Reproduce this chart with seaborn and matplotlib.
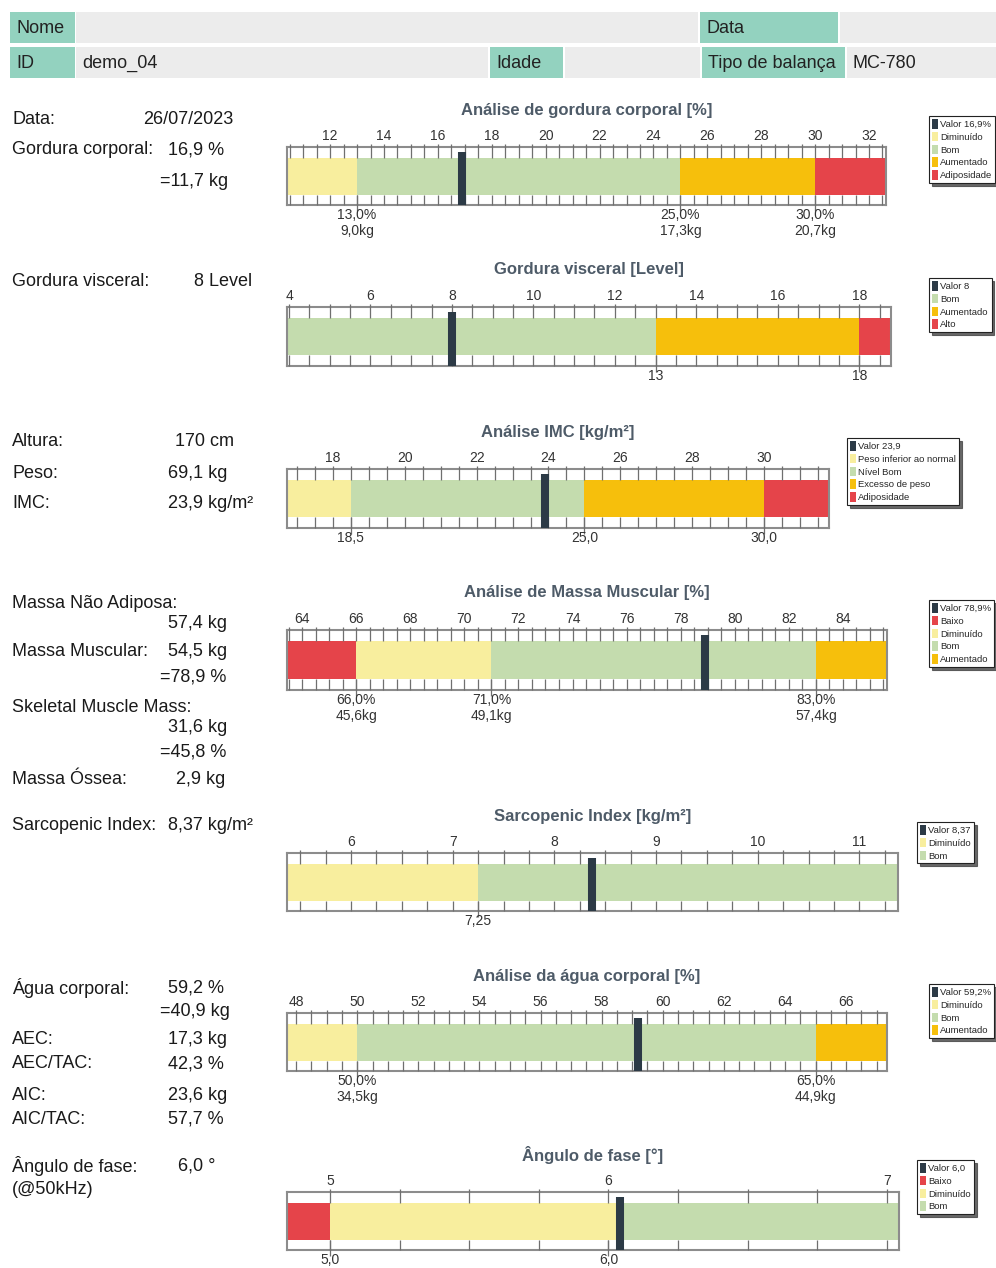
import numpy as np
import matplotlib
matplotlib.use("Agg")
import matplotlib.pyplot as plt
import seaborn as sns
from matplotlib.patches import Rectangle, Patch

sns.set_theme(style="white")
plt.rcParams['font.family'] = ['Liberation Sans', 'DejaVu Sans']

W, H = 996, 1268

# ---------------- colours ----------------
C_YEL = '#f8ee9e'
C_GRN = '#c4dcae'
C_ORA = '#f6bf0c'
C_RED = '#e5444a'
C_VAL = '#2c3a46'
C_TEAL = '#93d2bf'
C_GREY = '#ececec'

# ---------------- header data ----------------
header_labels = ["Nome", "Data", "ID", "Idade", "Tipo de balança"]
header_values = ["", "", "demo_04", "", "MC-780"]

# ---------------- summary (left column) data ----------------
summary_labels = ["Data:", "Gordura corporal:", "", "Gordura visceral:",
                  "Altura:", "Peso:", "IMC:",
                  "Massa Não Adiposa:", "", "Massa Muscular:", "",
                  "Skeletal Muscle Mass:", "", "", "Massa Óssea:",
                  "Sarcopenic Index:",
                  "Água corporal:", "", "AEC:", "AEC/TAC:", "AIC:", "AIC/TAC:",
                  "Ângulo de fase:", "(@50kHz)"]
summary_values = ["26/07/2023", "16,9 %", "=11,7 kg", "8 Level",
                  "170 cm", "69,1 kg", "23,9 kg/m²",
                  "", "57,4 kg", "54,5 kg", "=78,9 %",
                  "", "31,6 kg", "=45,8 %", "2,9 kg",
                  "8,37 kg/m²",
                  "59,2 %", "=40,9 kg", "17,3 kg", "42,3 %", "23,6 kg", "57,7 %",
                  "6,0 °", ""]

# ---------------- gauge data ----------------
fat_title = "Análise de gordura corporal [%]"
fat_ticks = [12, 14, 16, 18, 20, 22, 24, 26, 28, 30, 32]
fat_bounds = [13.0, 25.0, 30.0]
fat_edges = [13.0, 25.0, 30.0]
fat_colors = [C_YEL, C_GRN, C_ORA, C_RED]
fat_value = 16.9
fat_bound_labels = ["13,0%\n9,0kg", "25,0%\n17,3kg", "30,0%\n20,7kg"]
fat_legend = ["Valor 16,9%", "Diminuído", "Bom", "Aumentado", "Adiposidade"]
fat_legend_colors = [C_VAL, C_YEL, C_GRN, C_ORA, C_RED]

visc_title = "Gordura visceral [Level]"
visc_ticks = [4, 6, 8, 10, 12, 14, 16, 18]
visc_bounds = [13, 18]
visc_edges = [13, 18]
visc_colors = [C_GRN, C_ORA, C_RED]
visc_value = 8
visc_bound_labels = ["13", "18"]
visc_legend = ["Valor 8", "Bom", "Aumentado", "Alto"]
visc_legend_colors = [C_VAL, C_GRN, C_ORA, C_RED]

bmi_title = "Análise IMC [kg/m²]"
bmi_ticks = [18, 20, 22, 24, 26, 28, 30]
bmi_bounds = [18.5, 25.0, 30.0]
bmi_edges = [18.5, 25.0, 30.0]
bmi_colors = [C_YEL, C_GRN, C_ORA, C_RED]
bmi_value = 23.9
bmi_bound_labels = ["18,5", "25,0", "30,0"]
bmi_legend = ["Valor 23,9", "Peso inferior ao normal", "Nível Bom", "Excesso de peso", "Adiposidade"]
bmi_legend_colors = [C_VAL, C_YEL, C_GRN, C_ORA, C_RED]

mus_title = "Análise de Massa Muscular [%]"
mus_ticks = [64, 66, 68, 70, 72, 74, 76, 78, 80, 82, 84]
mus_bounds = [66.0, 71.0, 83.0]
mus_edges = [66.0, 71.0, 83.0]
mus_colors = [C_RED, C_YEL, C_GRN, C_ORA]
mus_value = 78.9
mus_bound_labels = ["66,0%\n45,6kg", "71,0%\n49,1kg", "83,0%\n57,4kg"]
mus_legend = ["Valor 78,9%", "Baixo", "Diminuído", "Bom", "Aumentado"]
mus_legend_colors = [C_VAL, C_RED, C_YEL, C_GRN, C_ORA]

sarc_title = "Sarcopenic Index [kg/m²]"
sarc_ticks = [6, 7, 8, 9, 10, 11]
sarc_bounds = [7.25]
sarc_edges = [7.25]
sarc_colors = [C_YEL, C_GRN]
sarc_value = 8.37
sarc_bound_labels = ["7,25"]
sarc_legend = ["Valor 8,37", "Diminuído", "Bom"]
sarc_legend_colors = [C_VAL, C_YEL, C_GRN]

wat_title = "Análise da água corporal [%]"
wat_ticks = [48, 50, 52, 54, 56, 58, 60, 62, 64, 66]
wat_bounds = [50.0, 65.0]
wat_edges = [50.0, 65.0]
wat_colors = [C_YEL, C_GRN, C_ORA]
wat_value = 59.2
wat_bound_labels = ["50,0%\n34,5kg", "65,0%\n44,9kg"]
wat_legend = ["Valor 59,2%", "Diminuído", "Bom", "Aumentado"]
wat_legend_colors = [C_VAL, C_YEL, C_GRN, C_ORA]

pha_title = "Ângulo de fase [°]"
pha_ticks = [5, 6, 7]
pha_bounds = [5.0, 6.0]
pha_edges = [5.0, 6.03]
pha_colors = [C_RED, C_YEL, C_GRN]
pha_value = 6.04
pha_bound_labels = ["5,0", "6,0"]
pha_legend = ["Valor 6,0", "Baixo", "Diminuído", "Bom"]
pha_legend_colors = [C_VAL, C_RED, C_YEL, C_GRN]

# ---------------- figure ----------------
fig = plt.figure(figsize=(W / 100, H / 100), dpi=100)
fig.patch.set_facecolor('white')

bg = fig.add_axes([0, 0, 1, 1], zorder=0)
bg.set_xlim(0, W)
bg.set_ylim(H, 0)
bg.axis('off')

# header layout (pixel boxes)
teal_boxes = [(10, 12, 75, 43), (700, 12, 838, 43), (10, 47, 75, 78), (490, 47, 563, 78), (702, 47, 845, 78)]
grey_boxes = [(76, 12, 698, 43), (840, 12, 996, 43), (76, 47, 488, 78), (565, 47, 700, 78), (847, 47, 996, 78)]
for (x0, y0, x1, y1) in teal_boxes:
    bg.add_patch(Rectangle((x0, y0), x1 - x0, y1 - y0, facecolor=C_TEAL, edgecolor='none'))
for (x0, y0, x1, y1) in grey_boxes:
    bg.add_patch(Rectangle((x0, y0), x1 - x0, y1 - y0, facecolor=C_GREY, edgecolor='none'))
for (x0, y0, x1, y1), lab in zip(teal_boxes, header_labels):
    bg.text(x0 + 6, (y0 + y1) / 2 + 1, lab, fontsize=13, color='#222', va='center', ha='left')
for (x0, y0, x1, y1), val in zip(grey_boxes, header_values):
    if val:
        bg.text(x0 + 6, (y0 + y1) / 2 + 1, val, fontsize=13, color='#222', va='center', ha='left')

# summary layout
summary_y = [120, 150, 181, 282, 442, 473, 503, 604, 624, 652, 677, 707, 728, 752, 779, 825,
             988, 1012, 1040, 1064, 1096, 1119, 1166, 1190]
value_x = [143, 168, 160, 194, 175, 168, 168, 168, 168, 168, 160, 168, 168, 160, 176, 168,
           168, 160, 168, 168, 168, 168, 178, 168]
for lab, val, y, vx in zip(summary_labels, summary_values, summary_y, value_x):
    if lab:
        bg.text(12, y, lab, fontsize=13, color='#1a1a1a', va='center', ha='left')
    if val:
        bg.text(vx, y, val, fontsize=13, color='#1a1a1a', va='center', ha='left')

BAND_LO, BAND_HI = 0.18, 0.81
HALF = (BAND_HI - BAND_LO) / 2
TICK_C = '#6f6f6f'


def draw_gauge(box, xlim, minor_step, ticks, bounds, edges, colors, value, blabels, title,
               leg_labels, leg_colors, leg_xy):
    x0, y0, x1, y1 = box
    ax = fig.add_axes([x0 / W, 1 - y1 / H, (x1 - x0) / W, (y1 - y0) / H], zorder=2)
    ends = list(edges) + [xlim[1] + 1]
    # stacked bands: draw longest bar first, shorter bars on top
    for end, c in sorted(zip(ends, colors), key=lambda t: -t[0]):
        sns.barplot(x=[end], y=["band"], orient="h", color=c, saturation=1,
                    width=2 * HALF, linewidth=0, errorbar=None, ax=ax)
    ax.set_xlim(*xlim)
    ax.set_ylim(-HALF - BAND_LO, 1 - HALF - BAND_LO)
    ax.set_xlabel("")
    ax.set_ylabel("")
    ax.set_yticks([])
    ax.grid(False)
    for s in ax.spines.values():
        s.set_color('#8c8c8c')
        s.set_linewidth(1.5)
    # ticks drawn inside frame
    trans = ax.get_xaxis_transform()
    start = np.ceil(xlim[0] / minor_step - 1e-9) * minor_step
    minor = np.arange(start, xlim[1], minor_step)
    ax.vlines(minor, BAND_HI, 1.05, transform=trans, colors=TICK_C, lw=0.9, clip_on=False, zorder=3)
    ax.vlines(minor, 0.0, BAND_LO, transform=trans, colors=TICK_C, lw=0.9, clip_on=False, zorder=3)
    ax.vlines(bounds, -0.1, BAND_LO, transform=trans, colors=TICK_C, lw=0.9, clip_on=False, zorder=3)
    # value marker
    ax.vlines([value], 0.0, 0.92, transform=trans, colors=C_VAL, lw=5.8, zorder=4)
    # top tick labels
    ax.set_xticks(ticks)
    ax.set_xticklabels([str(t) for t in ticks])
    ax.xaxis.set_ticks_position('top')
    ax.tick_params(axis='x', length=0, pad=3, labelsize=10, labelcolor='#333',
                   labeltop=True, labelbottom=False)
    # threshold labels below
    for b, lab in zip(bounds, blabels):
        ax.annotate(lab, xy=(b, 0), xycoords=trans, xytext=(0, -3), textcoords='offset pixels',
                    ha='center', va='top', fontsize=10, color='#333', linespacing=1.15)
    # title
    ax.annotate(title, xy=(0.5, 1), xycoords='axes fraction', xytext=(0, 37),
                textcoords='offset pixels', ha='center', va='center', fontsize=12,
                fontweight='bold', color='#4e5b68')
    # legend
    handles = [Patch(facecolor=c, edgecolor='none') for c in leg_colors]
    leg = fig.legend(handles, leg_labels, loc='upper left',
                     bbox_to_anchor=(leg_xy[0] / W, 1 - leg_xy[1] / H),
                     frameon=True, fancybox=False, shadow={'color': '#444', 'alpha': 0.8},
                     fontsize=6.8, handlelength=0.6, handleheight=1.2, handletextpad=0.3,
                     labelspacing=0.3, borderpad=0.3, borderaxespad=0)
    leg.get_frame().set_edgecolor('#222')
    leg.get_frame().set_linewidth(0.8)
    leg.set_zorder(5)
    return ax


draw_gauge((287, 147, 886, 205), (10.4, 32.63), 0.5, fat_ticks, fat_bounds, fat_edges, fat_colors, fat_value,
           fat_bound_labels, fat_title, fat_legend, fat_legend_colors, (929, 116))
draw_gauge((287, 307, 891, 366), (3.95, 18.78), 0.5, visc_ticks, visc_bounds, visc_edges, visc_colors, visc_value,
           visc_bound_labels, visc_title, visc_legend, visc_legend_colors, (929, 278))
draw_gauge((287, 469, 829, 528), (16.72, 31.81), 0.5, bmi_ticks, bmi_bounds, bmi_edges, bmi_colors, bmi_value,
           bmi_bound_labels, bmi_title, bmi_legend, bmi_legend_colors, (847, 438))
draw_gauge((287, 630, 887, 690), (63.44, 85.63), 0.5, mus_ticks, mus_bounds, mus_edges, mus_colors, mus_value,
           mus_bound_labels, mus_title, mus_legend, mus_legend_colors, (929, 600))
draw_gauge((287, 853, 898, 911), (5.37, 11.38), 0.25, sarc_ticks, sarc_bounds, sarc_edges, sarc_colors, sarc_value,
           sarc_bound_labels, sarc_title, sarc_legend, sarc_legend_colors, (917, 822))
draw_gauge((287, 1013, 887, 1071), (47.70, 67.34), 0.5, wat_ticks, wat_bounds, wat_edges, wat_colors, wat_value,
           wat_bound_labels, wat_title, wat_legend, wat_legend_colors, (929, 984))
draw_gauge((287, 1192, 899, 1250), (4.846, 7.043), 0.25, pha_ticks, pha_bounds, pha_edges, pha_colors, pha_value,
           pha_bound_labels, pha_title, pha_legend, pha_legend_colors, (917, 1160))

fig.savefig("out.png", dpi=100)
